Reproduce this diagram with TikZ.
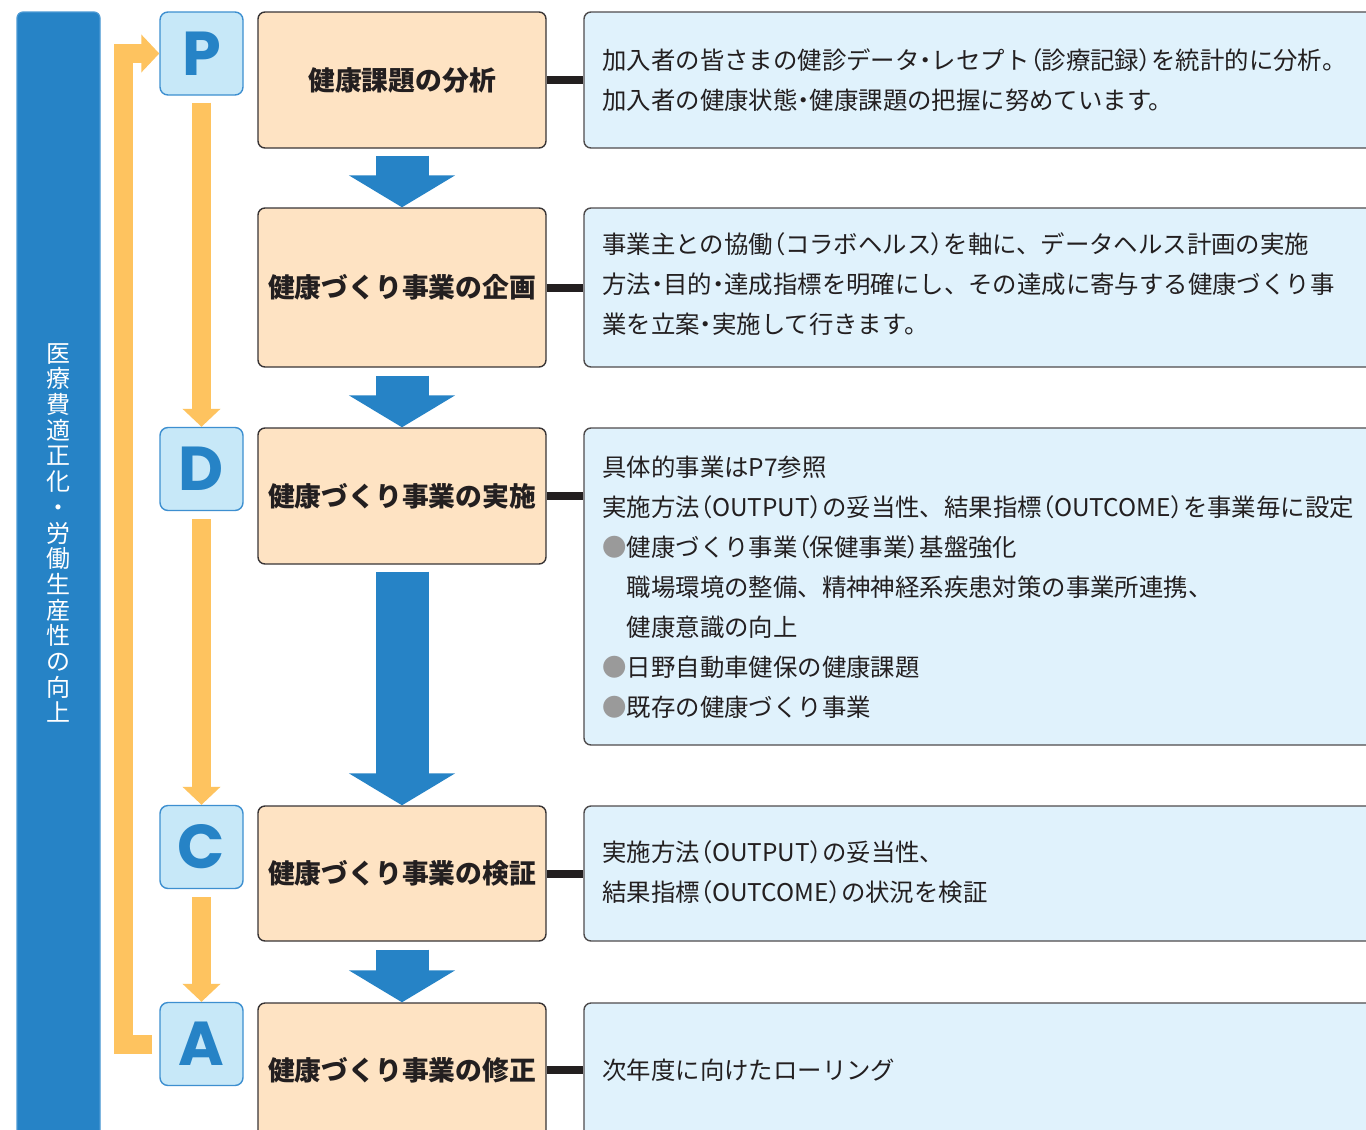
\documentclass[tikz,border=0pt]{standalone}
\usepackage{fontspec}
\setmainfont{Noto Sans CJK JP}
\newfontfamily\pdcafont{Poppins}
\newcommand\pp[1]{{\addfontfeatures{RawFeature=+palt}#1}}
\usetikzlibrary{arrows.meta}
\definecolor{blu}{HTML}{2683C6}
\definecolor{barb}{HTML}{4C9AD4}
\definecolor{yel}{HTML}{FEC35F}
\definecolor{lfill}{HTML}{C7E8F8}
\definecolor{lbord}{HTML}{3D8FD0}
\definecolor{ofill}{HTML}{FEE3C3}
\definecolor{rfill}{HTML}{E0F2FC}
\definecolor{ink}{HTML}{231F20}
\definecolor{bull}{HTML}{9A9A9A}
\tikzset{
  sidebar/.style={draw=barb, line width=0.6pt, fill=blu, rounded corners=3pt, minimum width=41.5pt, minimum height=569pt, inner sep=0pt},
  letterbox/.style={draw=lbord, line width=0.7pt, fill=lfill, rounded corners=4pt, minimum width=41.5pt, minimum height=41.5pt, inner sep=0pt, text=blu, font=\pdcafont\bfseries\fontsize{31pt}{31pt}\selectfont},
  obox/.style={draw=ink!90, line width=0.7pt, fill=ofill, rounded corners=3.5pt, minimum width=144pt, inner sep=0pt, text=ink, font=\bfseries\fontsize{13.4pt}{16pt}\selectfont},
  rbox/.style={draw=ink!80, line width=0.7pt, fill=rfill, rounded corners=3.5pt, minimum width=398pt, inner sep=0pt},
  rtext/.style={anchor=west, inner sep=0pt, align=left, text=ink, font=\fontsize{12.2pt}{20pt}\selectfont},
  yarrow/.style={draw=yel, line width=9.5pt, line join=miter, -{Triangle[width=18.5pt,length=9pt]}},
  barrow/.style={draw=blu, line width=26.5pt, -{Triangle[width=52.5pt,length=16pt]}},
  conn/.style={draw=ink, line width=4pt}
}
\begin{document}
\begin{tikzpicture}[x=0.5pt,y=-0.5pt]
\clip (0,0) rectangle (1366,1130);
\fill[white] (0,0) rectangle (1366,1130);
% left bar
\node[sidebar] (bar) at (58.5,581) {};
\node[text=white, align=center, inner sep=0pt, font=\fontsize{12pt}{12.85pt}\selectfont] (bartext) at (58.5,533)
  {医\\療\\費\\適\\正\\化\\・\\労\\働\\生\\産\\性\\の\\向\\上};
% letter boxes
\node[letterbox] (P) at (201.5,53.5) {P};
\node[letterbox] (D) at (201.5,469) {D};
\node[letterbox] (C) at (201.5,847) {C};
\node[letterbox] (A) at (201.5,1044) {A};
% orange boxes
\node[obox, minimum height=68pt] (o1) at (402,80) {健康課題の分析};
\node[obox, minimum height=79.5pt] (o2) at (402,287.5) {健康づくり事業の企画};
\node[obox, minimum height=68pt] (o3) at (402,496) {健康づくり事業の実施};
\node[obox, minimum height=67.5pt] (o4) at (402,873.5) {健康づくり事業の検証};
\node[obox, minimum height=67pt] (o5) at (402,1070) {健康づくり事業の修正};
% right boxes
\node[rbox, minimum height=68pt] (r1) at (982,80) {};
\node[rbox, minimum height=79.5pt] (r2) at (982,287.5) {};
\node[rbox, minimum height=158.5pt] (r3) at (982,586.5) {};
\node[rbox, minimum height=67.5pt] (r4) at (982,873.5) {};
\node[rbox, minimum height=67pt] (r5) at (982,1070) {};
% texts
\node[rtext] (t1) at (602,80) {加入者の皆さまの健診データ\pp{・}レセプト\pp{（}診療記録\pp{）}を統計的に分析。\\加入者の健康状態\pp{・}健康課題の把握に努めています。};
\node[rtext] (t2) at (602,284) {事業主との協働\pp{（}コラボヘルス\pp{）}を軸に、データヘルス計画の実施\\方法\pp{・}目的\pp{・}達成指標を明確にし、その達成に寄与する健康づくり事\\業を立案\pp{・}実施して行きます。};
\node[rtext] (t3) at (602,587) {具体的事業はP7参照\\実施方法\pp{（}OUTPUT\pp{）}の妥当性、結果指標\pp{（}OUTCOME\pp{）}を事業毎に設定\\\textcolor{bull}{●}健康づくり事業\pp{（}保健事業\pp{）}基盤強化\\\phantom{●}職場環境の整備、精神神経系疾患対策の事業所連携、\\\phantom{●}健康意識の向上\\\textcolor{bull}{●}日野自動車健保の健康課題\\\textcolor{bull}{●}既存の健康づくり事業};
\node[rtext] (t4) at (602,872) {実施方法\pp{（}OUTPUT\pp{）}の妥当性、\\結果指標\pp{（}OUTCOME\pp{）}の状況を検証};
\node[rtext] (t5) at (602,1070) {次年度に向けたローリング};
% connectors
\foreach \i in {1,2,4,5} \draw[conn] (o\i.east) -- (r\i.west);
\draw[conn] (o3.east) -- (o3.east -| r3.west);
% blue block arrows
\draw[barrow] ([yshift=-3.5pt]o1.south) -- (o2.north);
\draw[barrow] ([yshift=-4pt]o2.south) -- (o3.north);
\draw[barrow] ([yshift=-3.5pt]o3.south) -- (o4.north);
\draw[barrow] ([yshift=-4pt]o4.south) -- (o5.north);
% yellow arrows
\draw[yarrow] ([yshift=-3.5pt]P.south) -- (D.north);
\draw[yarrow] ([yshift=-4pt]D.south) -- (C.north);
\draw[yarrow] ([yshift=-4pt]C.south) -- (A.north);
\coordinate (loopstart) at ([xshift=-3.5pt]A.west);
\draw[yarrow] (loopstart) -- ++(-28.5,0) |- (P.west);
\end{tikzpicture}
\end{document}
